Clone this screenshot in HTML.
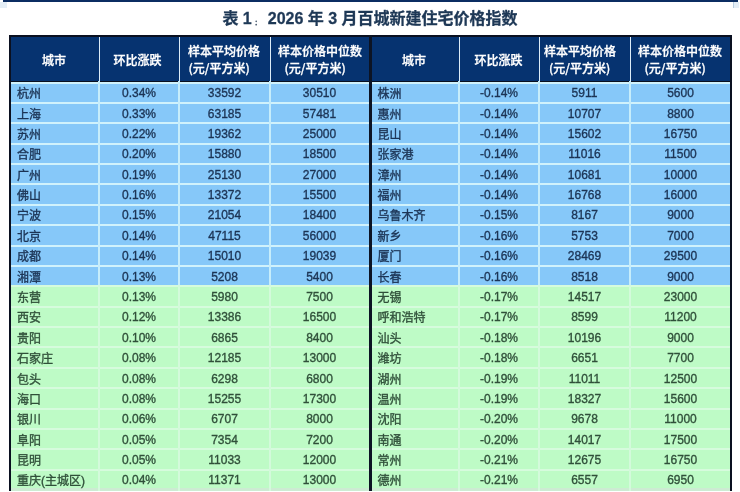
<!DOCTYPE html><html><head><meta charset="utf-8"><style>
*{margin:0;padding:0;box-sizing:border-box}
html,body{width:740px;height:492px;overflow:hidden;background:#fff}
body{position:relative;font-family:"Liberation Sans","Noto Sans CJK SC",sans-serif}
.a{position:absolute}
.t{position:absolute;font-size:12px;line-height:14px;white-space:nowrap;-webkit-text-stroke:0.35px}
.n{-webkit-text-stroke:0.35px}
.c{text-align:center}
.h{position:absolute;color:#fff;font-weight:500;-webkit-text-stroke:0.3px #fff;font-size:12px;line-height:16px;white-space:nowrap}
.h2{font-family:"Noto Sans CJK SC",sans-serif}
</style></head><body><div id="w" style="position:absolute;left:0;top:0;width:740px;height:492px;background:#fff;filter:blur(0.6px)">
<div class="a" style="left:3px;top:0;width:735px;height:2px;background:#0b2d62"></div>
<div class="a" style="left:0;top:2px;width:7px;height:6px;background:#e4eef6"></div>
<div class="a" style="left:733px;top:2px;width:6px;height:6px;background:#e4eef6;border-left:1px solid #b8cde0"></div>
<div class="a" style="left:0;top:9px;width:740px;text-align:center;font-size:16px;line-height:20px;font-weight:bold;color:#1e3856;white-space:nowrap;-webkit-text-stroke:0.3px">表 1<span style="display:inline-block;width:19.6px;margin-left:-3.6px;font-size:7px;line-height:8px;font-weight:bold;color:#3d5066;position:relative;top:0.5px">：</span>2026 年 3 月百城新建住宅价格指数</div>
<div class="a" style="left:9px;top:35px;width:723px;height:456px;background:#0a1020"></div>
<div class="a" style="left:11px;top:37px;width:719px;height:44px;background:#063370"></div>
<div class="a" style="left:11px;top:81.50px;width:719px;height:2px;background:#d0f2fc"></div>
<div class="a" style="left:11px;top:83.50px;width:719px;height:18.38px;background:#86c8f9"></div>
<div class="a" style="left:11px;top:101.88px;width:719px;height:2px;background:#d0f2fc"></div>
<div class="a" style="left:11px;top:103.88px;width:719px;height:18.38px;background:#86c8f9"></div>
<div class="a" style="left:11px;top:122.26px;width:719px;height:2px;background:#d0f2fc"></div>
<div class="a" style="left:11px;top:124.26px;width:719px;height:18.38px;background:#86c8f9"></div>
<div class="a" style="left:11px;top:142.64px;width:719px;height:2px;background:#d0f2fc"></div>
<div class="a" style="left:11px;top:144.64px;width:719px;height:18.38px;background:#86c8f9"></div>
<div class="a" style="left:11px;top:163.02px;width:719px;height:2px;background:#d0f2fc"></div>
<div class="a" style="left:11px;top:165.02px;width:719px;height:18.38px;background:#86c8f9"></div>
<div class="a" style="left:11px;top:183.40px;width:719px;height:2px;background:#d0f2fc"></div>
<div class="a" style="left:11px;top:185.40px;width:719px;height:18.38px;background:#86c8f9"></div>
<div class="a" style="left:11px;top:203.78px;width:719px;height:2px;background:#d0f2fc"></div>
<div class="a" style="left:11px;top:205.78px;width:719px;height:18.38px;background:#86c8f9"></div>
<div class="a" style="left:11px;top:224.16px;width:719px;height:2px;background:#d0f2fc"></div>
<div class="a" style="left:11px;top:226.16px;width:719px;height:18.38px;background:#86c8f9"></div>
<div class="a" style="left:11px;top:244.54px;width:719px;height:2px;background:#d0f2fc"></div>
<div class="a" style="left:11px;top:246.54px;width:719px;height:18.38px;background:#86c8f9"></div>
<div class="a" style="left:11px;top:264.92px;width:719px;height:2px;background:#d0f2fc"></div>
<div class="a" style="left:11px;top:266.92px;width:719px;height:18.38px;background:#86c8f9"></div>
<div class="a" style="left:11px;top:285.30px;width:719px;height:2px;background:#d6fbdd"></div>
<div class="a" style="left:11px;top:287.30px;width:719px;height:18.38px;background:#befbc6"></div>
<div class="a" style="left:11px;top:305.68px;width:719px;height:2px;background:#d6fbdd"></div>
<div class="a" style="left:11px;top:307.68px;width:719px;height:18.38px;background:#befbc6"></div>
<div class="a" style="left:11px;top:326.06px;width:719px;height:2px;background:#d6fbdd"></div>
<div class="a" style="left:11px;top:328.06px;width:719px;height:18.38px;background:#befbc6"></div>
<div class="a" style="left:11px;top:346.44px;width:719px;height:2px;background:#d6fbdd"></div>
<div class="a" style="left:11px;top:348.44px;width:719px;height:18.38px;background:#befbc6"></div>
<div class="a" style="left:11px;top:366.82px;width:719px;height:2px;background:#d6fbdd"></div>
<div class="a" style="left:11px;top:368.82px;width:719px;height:18.38px;background:#befbc6"></div>
<div class="a" style="left:11px;top:387.20px;width:719px;height:2px;background:#d6fbdd"></div>
<div class="a" style="left:11px;top:389.20px;width:719px;height:18.38px;background:#befbc6"></div>
<div class="a" style="left:11px;top:407.58px;width:719px;height:2px;background:#d6fbdd"></div>
<div class="a" style="left:11px;top:409.58px;width:719px;height:18.38px;background:#befbc6"></div>
<div class="a" style="left:11px;top:427.96px;width:719px;height:2px;background:#d6fbdd"></div>
<div class="a" style="left:11px;top:429.96px;width:719px;height:18.38px;background:#befbc6"></div>
<div class="a" style="left:11px;top:448.34px;width:719px;height:2px;background:#d6fbdd"></div>
<div class="a" style="left:11px;top:450.34px;width:719px;height:18.38px;background:#befbc6"></div>
<div class="a" style="left:11px;top:468.72px;width:719px;height:2px;background:#d6fbdd"></div>
<div class="a" style="left:11px;top:470.72px;width:719px;height:17.78px;background:#befbc6"></div>
<div class="a" style="left:11px;top:488px;width:719px;height:3px;background:#cdebd3"></div>
<div class="a" style="left:98.5px;top:37px;width:1px;height:44px;background:#dcecf8"></div>
<div class="a" style="left:98px;top:81px;width:2px;height:204.30px;background:#c6edfb"></div>
<div class="a" style="left:98px;top:285.30px;width:2px;height:205.70px;background:#d3fadb"></div>
<div class="a" style="left:178.5px;top:37px;width:1px;height:44px;background:#dcecf8"></div>
<div class="a" style="left:178px;top:81px;width:2px;height:204.30px;background:#c6edfb"></div>
<div class="a" style="left:178px;top:285.30px;width:2px;height:205.70px;background:#d3fadb"></div>
<div class="a" style="left:269.5px;top:37px;width:1px;height:44px;background:#dcecf8"></div>
<div class="a" style="left:269px;top:81px;width:2px;height:204.30px;background:#c6edfb"></div>
<div class="a" style="left:269px;top:285.30px;width:2px;height:205.70px;background:#d3fadb"></div>
<div class="a" style="left:458.5px;top:37px;width:1px;height:44px;background:#dcecf8"></div>
<div class="a" style="left:458px;top:81px;width:2px;height:204.30px;background:#c6edfb"></div>
<div class="a" style="left:458px;top:285.30px;width:2px;height:205.70px;background:#d3fadb"></div>
<div class="a" style="left:538.5px;top:37px;width:1px;height:44px;background:#dcecf8"></div>
<div class="a" style="left:538px;top:81px;width:2px;height:204.30px;background:#c6edfb"></div>
<div class="a" style="left:538px;top:285.30px;width:2px;height:205.70px;background:#d3fadb"></div>
<div class="a" style="left:629.5px;top:37px;width:1px;height:44px;background:#dcecf8"></div>
<div class="a" style="left:629px;top:81px;width:2px;height:204.30px;background:#c6edfb"></div>
<div class="a" style="left:629px;top:285.30px;width:2px;height:205.70px;background:#d3fadb"></div>
<div class="a" style="left:369px;top:35px;width:2.5px;height:456px;background:#0c1424"></div>
<div class="h" style="left:42px;top:53px">城市</div>
<div class="h" style="left:113.5px;top:53px">环比涨跌</div>
<div class="h" style="left:188px;top:44px">样本平均价格</div>
<div class="h h2" style="left:188.5px;top:60px">(元/平方米)</div>
<div class="h" style="left:278px;top:44px">样本价格中位数</div>
<div class="h h2" style="left:284.5px;top:60px">(元/平方米)</div>
<div class="h" style="left:402px;top:53px">城市</div>
<div class="h" style="left:474.5px;top:53px">环比涨跌</div>
<div class="h" style="left:544px;top:44px">样本平均价格</div>
<div class="h h2" style="left:549px;top:60px">(元/平方米)</div>
<div class="h" style="left:638px;top:44px">样本价格中位数</div>
<div class="h h2" style="left:644.5px;top:60px">(元/平方米)</div>
<div class="t n" style="left:17px;top:87.19px;color:#1c3455">杭州</div>
<div class="t c" style="left:99px;top:86.19px;width:80px;color:#1c3455">0.34%</div>
<div class="t c" style="left:179px;top:86.19px;width:91px;color:#1c3455">33592</div>
<div class="t c" style="left:270px;top:86.19px;width:99px;color:#1c3455">30510</div>
<div class="t n" style="left:17px;top:107.57px;color:#1c3455">上海</div>
<div class="t c" style="left:99px;top:106.57px;width:80px;color:#1c3455">0.33%</div>
<div class="t c" style="left:179px;top:106.57px;width:91px;color:#1c3455">63185</div>
<div class="t c" style="left:270px;top:106.57px;width:99px;color:#1c3455">57481</div>
<div class="t n" style="left:17px;top:127.95px;color:#1c3455">苏州</div>
<div class="t c" style="left:99px;top:126.95px;width:80px;color:#1c3455">0.22%</div>
<div class="t c" style="left:179px;top:126.95px;width:91px;color:#1c3455">19362</div>
<div class="t c" style="left:270px;top:126.95px;width:99px;color:#1c3455">25000</div>
<div class="t n" style="left:17px;top:148.33px;color:#1c3455">合肥</div>
<div class="t c" style="left:99px;top:147.33px;width:80px;color:#1c3455">0.20%</div>
<div class="t c" style="left:179px;top:147.33px;width:91px;color:#1c3455">15880</div>
<div class="t c" style="left:270px;top:147.33px;width:99px;color:#1c3455">18500</div>
<div class="t n" style="left:17px;top:168.71px;color:#1c3455">广州</div>
<div class="t c" style="left:99px;top:167.71px;width:80px;color:#1c3455">0.19%</div>
<div class="t c" style="left:179px;top:167.71px;width:91px;color:#1c3455">25130</div>
<div class="t c" style="left:270px;top:167.71px;width:99px;color:#1c3455">27000</div>
<div class="t n" style="left:17px;top:189.09px;color:#1c3455">佛山</div>
<div class="t c" style="left:99px;top:188.09px;width:80px;color:#1c3455">0.16%</div>
<div class="t c" style="left:179px;top:188.09px;width:91px;color:#1c3455">13372</div>
<div class="t c" style="left:270px;top:188.09px;width:99px;color:#1c3455">15500</div>
<div class="t n" style="left:17px;top:209.47px;color:#1c3455">宁波</div>
<div class="t c" style="left:99px;top:208.47px;width:80px;color:#1c3455">0.15%</div>
<div class="t c" style="left:179px;top:208.47px;width:91px;color:#1c3455">21054</div>
<div class="t c" style="left:270px;top:208.47px;width:99px;color:#1c3455">18400</div>
<div class="t n" style="left:17px;top:229.85px;color:#1c3455">北京</div>
<div class="t c" style="left:99px;top:228.85px;width:80px;color:#1c3455">0.14%</div>
<div class="t c" style="left:179px;top:228.85px;width:91px;color:#1c3455">47115</div>
<div class="t c" style="left:270px;top:228.85px;width:99px;color:#1c3455">56000</div>
<div class="t n" style="left:17px;top:250.23px;color:#1c3455">成都</div>
<div class="t c" style="left:99px;top:249.23px;width:80px;color:#1c3455">0.14%</div>
<div class="t c" style="left:179px;top:249.23px;width:91px;color:#1c3455">15010</div>
<div class="t c" style="left:270px;top:249.23px;width:99px;color:#1c3455">19039</div>
<div class="t n" style="left:17px;top:270.61px;color:#1c3455">湘潭</div>
<div class="t c" style="left:99px;top:269.61px;width:80px;color:#1c3455">0.13%</div>
<div class="t c" style="left:179px;top:269.61px;width:91px;color:#1c3455">5208</div>
<div class="t c" style="left:270px;top:269.61px;width:99px;color:#1c3455">5400</div>
<div class="t n" style="left:17px;top:290.99px;color:#30503a">东营</div>
<div class="t c" style="left:99px;top:289.99px;width:80px;color:#30503a">0.13%</div>
<div class="t c" style="left:179px;top:289.99px;width:91px;color:#30503a">5980</div>
<div class="t c" style="left:270px;top:289.99px;width:99px;color:#30503a">7500</div>
<div class="t n" style="left:17px;top:311.37px;color:#30503a">西安</div>
<div class="t c" style="left:99px;top:310.37px;width:80px;color:#30503a">0.12%</div>
<div class="t c" style="left:179px;top:310.37px;width:91px;color:#30503a">13386</div>
<div class="t c" style="left:270px;top:310.37px;width:99px;color:#30503a">16500</div>
<div class="t n" style="left:17px;top:331.75px;color:#30503a">贵阳</div>
<div class="t c" style="left:99px;top:330.75px;width:80px;color:#30503a">0.10%</div>
<div class="t c" style="left:179px;top:330.75px;width:91px;color:#30503a">6865</div>
<div class="t c" style="left:270px;top:330.75px;width:99px;color:#30503a">8400</div>
<div class="t n" style="left:17px;top:352.13px;color:#30503a">石家庄</div>
<div class="t c" style="left:99px;top:351.13px;width:80px;color:#30503a">0.08%</div>
<div class="t c" style="left:179px;top:351.13px;width:91px;color:#30503a">12185</div>
<div class="t c" style="left:270px;top:351.13px;width:99px;color:#30503a">13000</div>
<div class="t n" style="left:17px;top:372.51px;color:#30503a">包头</div>
<div class="t c" style="left:99px;top:371.51px;width:80px;color:#30503a">0.08%</div>
<div class="t c" style="left:179px;top:371.51px;width:91px;color:#30503a">6298</div>
<div class="t c" style="left:270px;top:371.51px;width:99px;color:#30503a">6800</div>
<div class="t n" style="left:17px;top:392.89px;color:#30503a">海口</div>
<div class="t c" style="left:99px;top:391.89px;width:80px;color:#30503a">0.08%</div>
<div class="t c" style="left:179px;top:391.89px;width:91px;color:#30503a">15255</div>
<div class="t c" style="left:270px;top:391.89px;width:99px;color:#30503a">17300</div>
<div class="t n" style="left:17px;top:413.27px;color:#30503a">银川</div>
<div class="t c" style="left:99px;top:412.27px;width:80px;color:#30503a">0.06%</div>
<div class="t c" style="left:179px;top:412.27px;width:91px;color:#30503a">6707</div>
<div class="t c" style="left:270px;top:412.27px;width:99px;color:#30503a">8000</div>
<div class="t n" style="left:17px;top:433.65px;color:#30503a">阜阳</div>
<div class="t c" style="left:99px;top:432.65px;width:80px;color:#30503a">0.05%</div>
<div class="t c" style="left:179px;top:432.65px;width:91px;color:#30503a">7354</div>
<div class="t c" style="left:270px;top:432.65px;width:99px;color:#30503a">7200</div>
<div class="t n" style="left:17px;top:454.03px;color:#30503a">昆明</div>
<div class="t c" style="left:99px;top:453.03px;width:80px;color:#30503a">0.05%</div>
<div class="t c" style="left:179px;top:453.03px;width:91px;color:#30503a">11033</div>
<div class="t c" style="left:270px;top:453.03px;width:99px;color:#30503a">12000</div>
<div class="t n" style="left:17px;top:474.41px;color:#30503a">重庆(主城区)</div>
<div class="t c" style="left:99px;top:473.41px;width:80px;color:#30503a">0.04%</div>
<div class="t c" style="left:179px;top:473.41px;width:91px;color:#30503a">11371</div>
<div class="t c" style="left:270px;top:473.41px;width:99px;color:#30503a">13000</div>
<div class="t n" style="left:377.5px;top:87.19px;color:#1c3455">株洲</div>
<div class="t c" style="left:459px;top:86.19px;width:80px;color:#1c3455">-0.14%</div>
<div class="t c" style="left:539px;top:86.19px;width:91px;color:#1c3455">5911</div>
<div class="t c" style="left:630px;top:86.19px;width:101px;color:#1c3455">5600</div>
<div class="t n" style="left:377.5px;top:107.57px;color:#1c3455">惠州</div>
<div class="t c" style="left:459px;top:106.57px;width:80px;color:#1c3455">-0.14%</div>
<div class="t c" style="left:539px;top:106.57px;width:91px;color:#1c3455">10707</div>
<div class="t c" style="left:630px;top:106.57px;width:101px;color:#1c3455">8800</div>
<div class="t n" style="left:377.5px;top:127.95px;color:#1c3455">昆山</div>
<div class="t c" style="left:459px;top:126.95px;width:80px;color:#1c3455">-0.14%</div>
<div class="t c" style="left:539px;top:126.95px;width:91px;color:#1c3455">15602</div>
<div class="t c" style="left:630px;top:126.95px;width:101px;color:#1c3455">16750</div>
<div class="t n" style="left:377.5px;top:148.33px;color:#1c3455">张家港</div>
<div class="t c" style="left:459px;top:147.33px;width:80px;color:#1c3455">-0.14%</div>
<div class="t c" style="left:539px;top:147.33px;width:91px;color:#1c3455">11016</div>
<div class="t c" style="left:630px;top:147.33px;width:101px;color:#1c3455">11500</div>
<div class="t n" style="left:377.5px;top:168.71px;color:#1c3455">漳州</div>
<div class="t c" style="left:459px;top:167.71px;width:80px;color:#1c3455">-0.14%</div>
<div class="t c" style="left:539px;top:167.71px;width:91px;color:#1c3455">10681</div>
<div class="t c" style="left:630px;top:167.71px;width:101px;color:#1c3455">10000</div>
<div class="t n" style="left:377.5px;top:189.09px;color:#1c3455">福州</div>
<div class="t c" style="left:459px;top:188.09px;width:80px;color:#1c3455">-0.14%</div>
<div class="t c" style="left:539px;top:188.09px;width:91px;color:#1c3455">16768</div>
<div class="t c" style="left:630px;top:188.09px;width:101px;color:#1c3455">16000</div>
<div class="t n" style="left:377.5px;top:209.47px;color:#1c3455">乌鲁木齐</div>
<div class="t c" style="left:459px;top:208.47px;width:80px;color:#1c3455">-0.15%</div>
<div class="t c" style="left:539px;top:208.47px;width:91px;color:#1c3455">8167</div>
<div class="t c" style="left:630px;top:208.47px;width:101px;color:#1c3455">9000</div>
<div class="t n" style="left:377.5px;top:229.85px;color:#1c3455">新乡</div>
<div class="t c" style="left:459px;top:228.85px;width:80px;color:#1c3455">-0.16%</div>
<div class="t c" style="left:539px;top:228.85px;width:91px;color:#1c3455">5753</div>
<div class="t c" style="left:630px;top:228.85px;width:101px;color:#1c3455">7000</div>
<div class="t n" style="left:377.5px;top:250.23px;color:#1c3455">厦门</div>
<div class="t c" style="left:459px;top:249.23px;width:80px;color:#1c3455">-0.16%</div>
<div class="t c" style="left:539px;top:249.23px;width:91px;color:#1c3455">28469</div>
<div class="t c" style="left:630px;top:249.23px;width:101px;color:#1c3455">29500</div>
<div class="t n" style="left:377.5px;top:270.61px;color:#1c3455">长春</div>
<div class="t c" style="left:459px;top:269.61px;width:80px;color:#1c3455">-0.16%</div>
<div class="t c" style="left:539px;top:269.61px;width:91px;color:#1c3455">8518</div>
<div class="t c" style="left:630px;top:269.61px;width:101px;color:#1c3455">9000</div>
<div class="t n" style="left:377.5px;top:290.99px;color:#30503a">无锡</div>
<div class="t c" style="left:459px;top:289.99px;width:80px;color:#30503a">-0.17%</div>
<div class="t c" style="left:539px;top:289.99px;width:91px;color:#30503a">14517</div>
<div class="t c" style="left:630px;top:289.99px;width:101px;color:#30503a">23000</div>
<div class="t n" style="left:377.5px;top:311.37px;color:#30503a">呼和浩特</div>
<div class="t c" style="left:459px;top:310.37px;width:80px;color:#30503a">-0.17%</div>
<div class="t c" style="left:539px;top:310.37px;width:91px;color:#30503a">8599</div>
<div class="t c" style="left:630px;top:310.37px;width:101px;color:#30503a">11200</div>
<div class="t n" style="left:377.5px;top:331.75px;color:#30503a">汕头</div>
<div class="t c" style="left:459px;top:330.75px;width:80px;color:#30503a">-0.18%</div>
<div class="t c" style="left:539px;top:330.75px;width:91px;color:#30503a">10196</div>
<div class="t c" style="left:630px;top:330.75px;width:101px;color:#30503a">9000</div>
<div class="t n" style="left:377.5px;top:352.13px;color:#30503a">潍坊</div>
<div class="t c" style="left:459px;top:351.13px;width:80px;color:#30503a">-0.18%</div>
<div class="t c" style="left:539px;top:351.13px;width:91px;color:#30503a">6651</div>
<div class="t c" style="left:630px;top:351.13px;width:101px;color:#30503a">7700</div>
<div class="t n" style="left:377.5px;top:372.51px;color:#30503a">湖州</div>
<div class="t c" style="left:459px;top:371.51px;width:80px;color:#30503a">-0.19%</div>
<div class="t c" style="left:539px;top:371.51px;width:91px;color:#30503a">11011</div>
<div class="t c" style="left:630px;top:371.51px;width:101px;color:#30503a">12500</div>
<div class="t n" style="left:377.5px;top:392.89px;color:#30503a">温州</div>
<div class="t c" style="left:459px;top:391.89px;width:80px;color:#30503a">-0.19%</div>
<div class="t c" style="left:539px;top:391.89px;width:91px;color:#30503a">18327</div>
<div class="t c" style="left:630px;top:391.89px;width:101px;color:#30503a">15600</div>
<div class="t n" style="left:377.5px;top:413.27px;color:#30503a">沈阳</div>
<div class="t c" style="left:459px;top:412.27px;width:80px;color:#30503a">-0.20%</div>
<div class="t c" style="left:539px;top:412.27px;width:91px;color:#30503a">9678</div>
<div class="t c" style="left:630px;top:412.27px;width:101px;color:#30503a">11000</div>
<div class="t n" style="left:377.5px;top:433.65px;color:#30503a">南通</div>
<div class="t c" style="left:459px;top:432.65px;width:80px;color:#30503a">-0.20%</div>
<div class="t c" style="left:539px;top:432.65px;width:91px;color:#30503a">14017</div>
<div class="t c" style="left:630px;top:432.65px;width:101px;color:#30503a">17500</div>
<div class="t n" style="left:377.5px;top:454.03px;color:#30503a">常州</div>
<div class="t c" style="left:459px;top:453.03px;width:80px;color:#30503a">-0.21%</div>
<div class="t c" style="left:539px;top:453.03px;width:91px;color:#30503a">12675</div>
<div class="t c" style="left:630px;top:453.03px;width:101px;color:#30503a">16750</div>
<div class="t n" style="left:377.5px;top:474.41px;color:#30503a">德州</div>
<div class="t c" style="left:459px;top:473.41px;width:80px;color:#30503a">-0.21%</div>
<div class="t c" style="left:539px;top:473.41px;width:91px;color:#30503a">6557</div>
<div class="t c" style="left:630px;top:473.41px;width:101px;color:#30503a">6950</div>
</div></body></html>
